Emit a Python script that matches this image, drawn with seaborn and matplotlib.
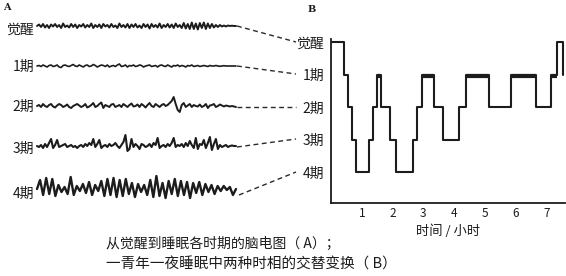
import numpy as np
import matplotlib
matplotlib.use("Agg")
import matplotlib.pyplot as plt
import seaborn as sns

# ---------------- data ----------------
stage_names = ['觉醒', '1期', '2期', '3期', '4期']
hour_ticks = [1, 2, 3, 4, 5, 6, 7]

# Panel B: hypnogram (time in hours, stage index 0=awake ... 4=stage 4)
change_times = [0, 0.43, 0.55, 0.68, 0.82, 1.25, 1.35, 1.48, 1.62, 1.91, 2.10, 2.65,
                2.80, 2.97, 3.33, 3.63, 4.17, 4.39, 5.12, 5.86, 6.65, 7.16, 7.34, 7.52]
stage_values = [0, 1, 2, 3, 4, 3, 2, 1, 2, 3, 4, 3,
                2, 1, 2, 3, 2, 1, 2, 1, 2, 1, 0, 1]
rem_start = [1.48, 2.97, 4.39, 5.86, 7.16]
rem_end = [1.62, 3.33, 5.12, 6.65, 7.34]

# Panel A: EEG traces (deflection in px, positive = up)
eeg_awake = [0, 1.5, -1, 2, -1.5, 1, -2, 1.5, -0.5, 2, -1, 1, -2, 2.5, -1, 0.5, -1.5, 2, -1, 1.5,
             -2, 1, -0.5, 2, -1.5, 1, -1, 2.5, -2, 1, -1, 1.5, -2, 2, -0.5, 1, -1.5, 2, -1, 0.5,
             -2, 2.5, -1, 1, -1.5, 2, -2, 1.5, -1, 2, -1.5, 0.5, -2, 2, -1, 1.5, -2.5, 2, -1, 1,
             -1.5, 2.5, -2, 1, -1, 2, -1.5, 1.5, -2, 2.5, -1, 1, -2, 3, -2.5, 2, -3, 3.5, -3, 2.5,
             -3.5, 3, -2, 3.5, -3, 2.5, -2, 2, -1.5, 1, -1, 1, -0.5, 0.5, -0.5, 0.5, 0, 0.3, 0, 0]
eeg_stage1 = [0, 0.5, -0.5, 1, 0, -1, 0.5, 1, -0.5, 0, 1, -1, -1.5, 0.5, 1, 0, -0.5, 0.5, 1.5, 0,
              -0.5, 1, 0, -1, 0.5, 1, -0.5, 0, 1.5, 0.5, -1, 0, 1, 0.5, -0.5, 1, -1, 0, 0.5, -0.5,
              1, 2, -0.5, 0, 1, -1, 0.5, 0, 1, -0.5, 0, 1, 0.5, -1, 0, 0.5, 1, -0.5, 0, 0.5,
              -1, 0.5, 1, 0, -0.5, 1, 0, -1, 0.5, 0, 1, -0.5, 0.5, 0, -1, 0.5, 0, 1, -0.5, 0,
              0.5, -0.5, 0, 0.5, 0, -0.5, 0.5, 0, 0, 0.5, 0, -0.3, 0, 0.3, 0, 0, 0, 0, 0, 0]
eeg_stage2 = [0, 1, -1, 2, 0, -1, 1, 2, -0.5, -1.5, 0.5, 2, 1, -1, 0, 1.5, -1, -2, 0, 1,
              2, 0.5, -1, 0, 2, -1.5, -0.5, 1, 3, -1, 0, 2, 3.5, -2, 1, 0, -1, 1.5, 2, -1,
              0, 1, -1, 2, 0.5, -1, 1, 2.5, -0.5, 0, 1.5, -1, 2, 0.5, -1.5, 1, 3, 0, -1, 2,
              0.5, -1, 1, 2, 0, 1, 3, 5, 9, 2, -4, -6, 1, 3, -1, 0.5, 2, -1, 1, 0,
              -0.5, 1.5, -1, 0, 2, -2, 0.5, 1, 2, -1, 0, 1.5, 0.5, -0.5, 0.5, 0, -0.5, 0, -0.5, -1]
eeg_stage3 = [0, -1, 1, -2, 2, -1, 3, 7, -2, 1, 6, -1, 0, 1, 2, -1, 0, 1, -1, 0,
              -2, 0, 1, -1, 2, 0, 3, 1, 7, -1, 2, 6, -2, 0, 1, -1, 2, 0, 1, 3,
              0, -2, 1, 4, 11, -5, -3, 7, -1, 2, 0, -3, 2, 1, -1, 0, 2, -1, 3, 1,
              8, -2, 0, 1, -1, 2, 0, 3, 8, -1, 1, 0, 2, -1, 3, 0, 5, 1, -2, 8,
              -3, 2, 1, 6, -2, 3, 9, -4, 2, 7, -3, 1, -1, 0, 1, -1, 0, 0.5, 0, 0]
eeg_stage4 = [0, 9, -6, 11, -5, 10, -7, 4, -3, 2, -5, 12, -6, 3, -2, 5, -4, 7, -6, 4,
              -2, 8, -7, 10, -6, 11, -8, 9, -7, 10, -5, 6, -8, 5, -3, 4, -6, 9, -8, 13,
              -7, 6, -9, 8, -5, 10, -7, 8, -6, 7, -9, 6, -4, 7, -6, 5, -3, 4, -5, 3,
              -2, 3, -1, 2, -6, 0]

# ---------------- figure ----------------
sns.set_theme(style='white')
plt.rcParams['font.family'] = ['Noto Sans CJK SC', 'DejaVu Sans']
ink = '#1c1c1c'

fig = plt.figure(figsize=(5.66, 2.76), dpi=100)
fig.patch.set_facecolor('white')

# Panel A: canvas in pixel coordinates
ax_a = fig.add_axes([0, 0, 1, 1])
ax_a.set_xlim(0, 566)
ax_a.set_ylim(276, 0)
ax_a.axis('off')

traces = [eeg_awake, eeg_stage1, eeg_stage2, eeg_stage3, eeg_stage4]
trace_rows = [26, 66, 106, 146, 189]
label_rows = [30, 67, 107, 149, 194]
trace_lw = [1.4, 1.2, 1.4, 1.5, 1.7]
x0, x1 = 37, 236
for vals, row, lrow, lw, name in zip(traces, trace_rows, label_rows, trace_lw, stage_names):
    xs = np.linspace(x0, x1, len(vals))
    ys = row - np.asarray(vals, dtype=float)
    sns.lineplot(x=xs, y=ys, ax=ax_a, color=ink, lw=lw, sort=False, estimator=None)
    ax_a.text(34, lrow, name, ha='right', va='center', fontsize=10, color=ink)

ax_a.text(3, 8, 'A', ha='left', va='center', fontsize=7, color=ink,
          family='DejaVu Serif', fontweight='bold')
ax_a.text(308, 10, 'B', ha='left', va='center', fontsize=7, color=ink,
          family='DejaVu Serif', fontweight='bold')

# dashed connectors
starts = [(237, 26), (237, 66), (237, 107), (237, 147), (239, 195)]
ends = [(296, 42), (296, 74), (296, 107), (296, 139), (296, 172)]
for (sx, sy), (ex, ey) in zip(starts, ends):
    ax_a.plot([sx, ex], [sy, ey], color='#2a2a2a', lw=1.0, ls=(0, (3.5, 2.5)))

# captions
ax_a.text(448, 231, '时间 / 小时', ha='center', va='center', fontsize=9.5, color=ink)
ax_a.text(106, 244, '从觉醒到睡眠各时期的脑电图（ A）；', ha='left', va='center',
          fontsize=10, color=ink)
ax_a.text(106, 265, '一青年一夜睡眠中两种时相的交替变换（ B）', ha='left', va='center',
          fontsize=10.5, color=ink)

# Panel B: hypnogram
axb = fig.add_axes([331 / 566, 1 - 203 / 276, 234 / 566, (203 - 39) / 276])
axb.set_facecolor('none')
sns.lineplot(x=change_times, y=stage_values, ax=axb, color=ink, lw=1.5,
             drawstyle='steps-post', sort=False, estimator=None)
for s, e in zip(rem_start, rem_end):
    sns.lineplot(x=[s, e], y=[1.05, 1.05], ax=axb, color=ink, lw=3.0, sort=False,
                 estimator=None, solid_capstyle='butt')

axb.set_xlim(0, 7.6)
axb.set_ylim(4.95, -0.1)
axb.set_xticks(hour_ticks)
axb.set_xticklabels([str(h) for h in hour_ticks], fontsize=8.5, color=ink)
axb.set_yticks(range(len(stage_names)))
axb.set_yticklabels(stage_names, fontsize=10, color=ink)
axb.set_xlabel('')
axb.set_ylabel('')
for side in ['top', 'right']:
    axb.spines[side].set_visible(False)
for side in ['left', 'bottom']:
    axb.spines[side].set_visible(True)
    axb.spines[side].set_color(ink)
    axb.spines[side].set_linewidth(1.3)
axb.tick_params(axis='both', direction='in', length=3, width=1, color=ink, pad=3)
axb.tick_params(axis='y', pad=5)

fig.savefig('out.png', dpi=100, facecolor='white')
